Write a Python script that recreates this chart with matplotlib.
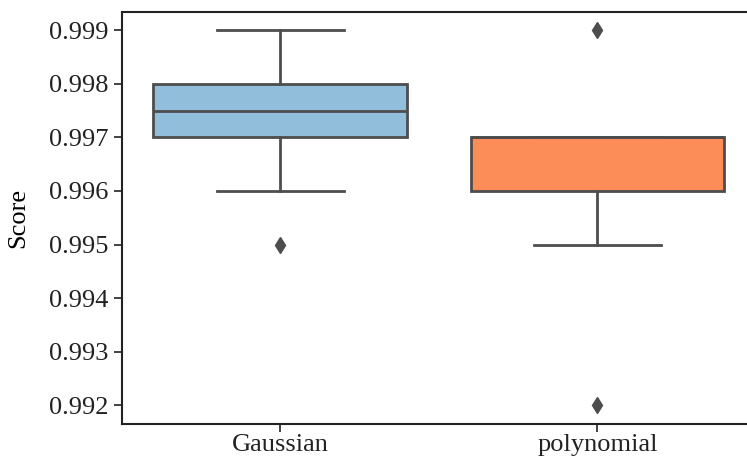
import numpy as np
import matplotlib.pyplot as plt

# Scores per kernel
categories = ["Gaussian", "polynomial"]
gaussian = [0.995, 0.996, 0.997, 0.997, 0.997, 0.998, 0.998, 0.998, 0.998, 0.999]
polynomial = [0.992, 0.995, 0.996, 0.996, 0.997, 0.997, 0.997, 0.997, 0.997, 0.999]
colors = ["#91bfdb", "#fc8d59"]
yticks = [0.992, 0.993, 0.994, 0.995, 0.996, 0.997, 0.998, 0.999]

plt.rcParams['font.family'] = ['Liberation Serif', 'DejaVu Serif']
line_col = "#4d4d4d"

fig = plt.figure(figsize=(7.47, 4.57), dpi=100)
ax = fig.add_axes([0.163, 0.0722, 0.849, 0.9015])

bp = ax.boxplot([gaussian, polynomial], positions=range(len(categories)),
                widths=0.8, patch_artist=True, whis=1.5,
                boxprops=dict(edgecolor=line_col, linewidth=2),
                medianprops=dict(color=line_col, linewidth=2),
                whiskerprops=dict(color=line_col, linewidth=2),
                capprops=dict(color=line_col, linewidth=2),
                capwidths=0.4,
                flierprops=dict(marker='d', markerfacecolor=line_col,
                                markeredgecolor=line_col, markersize=8))
for patch, c in zip(bp['boxes'], colors):
    patch.set_facecolor(c)

ax.set_xlim(-0.5, 1.5)
ax.set_ylim(0.99165, 0.99934)
ax.set_xticks(range(len(categories)))
ax.set_xticklabels(categories)
ax.set_yticks(yticks)
ax.set_yticklabels([f"{t:.3f}" for t in yticks])
ax.tick_params(labelsize=19, length=6, width=1.2, colors="#222222")
ax.tick_params(axis="x", pad=1)
ax.set_ylabel("Score", fontsize=19, labelpad=14)
for s in ["left", "bottom", "top"]:
    ax.spines[s].set_linewidth(1.5)
    ax.spines[s].set_color("#222222")
ax.spines["right"].set_visible(False)

plt.savefig("out.png", dpi=100)
